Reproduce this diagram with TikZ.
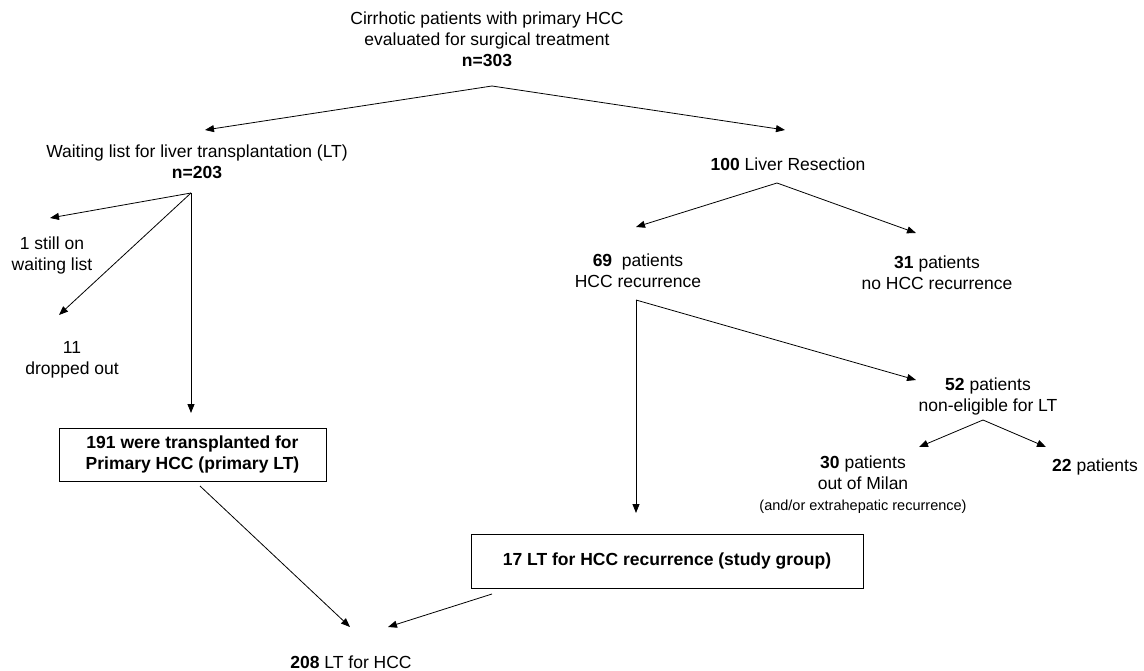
\documentclass[tikz,border=0pt]{standalone}
\usepackage{fontspec}
\setmainfont{Liberation Sans}
\usetikzlibrary{arrows.meta}
\begin{document}
\begin{tikzpicture}[x=1pt,y=-1pt,
  lbl/.style={align=center,inner sep=0pt,font=\fontsize{17.5}{21}\selectfont},
  bx/.style={draw,line width=0.9pt,inner sep=0pt,align=center,font=\fontsize{17.5}{21}\selectfont\bfseries},
  arr/.style={line width=0.8pt,-{Triangle[length=9pt,width=7pt]}},
  smallt/.style={font=\fontsize{14.5}{17}\selectfont}]
\useasboundingbox (0,0) rectangle (1144,671);
% nodes
\node[lbl] (title) at (487,39) {Cirrhotic patients with primary HCC\\evaluated for surgical treatment\\\textbf{n=303}};
\node[lbl] (wl) at (197,162) {Waiting list for liver transplantation (LT)\\\textbf{n=203}};
\node[lbl] (lr) at (788,164) {\textbf{100} Liver Resection};
\node[lbl] (still) at (52,255) {1 still on\\waiting list};
\node[lbl] (drop) at (72,360) {11\\dropped out};
\node[bx,minimum width=267pt,minimum height=53pt] (b191) at (192.5,454.5) {191 were transplanted for\\Primary HCC (primary LT)};
\node[lbl] (p69) at (638,271) {\textbf{69}\ \ patients\\HCC recurrence};
\node[lbl] (p31) at (937,273) {\textbf{31} patients\\no HCC recurrence};
\node[lbl] (p52) at (988,396) {\textbf{52} patients\\non-eligible for LT};
\node[lbl] (p30) at (863,485) {\textbf{30} patients\\out of Milan\\{\fontsize{14.5}{17}\selectfont (and/or extrahepatic recurrence)}};
\node[lbl] (p22) at (1095,467) {\textbf{22} patients};
\node[bx,minimum width=392pt,minimum height=54pt] (b17) at (667,561) {17 LT for HCC recurrence (study group)};
\node[lbl] (p208) at (351,662) {\textbf{208} LT for HCC};
% connector end points
\coordinate (title-out) at (492,86);
\coordinate (wl-in) at (205,130);
\coordinate (lr-in) at (785,130);
\coordinate (wl-out) at (191,193);
\coordinate (still-in) at (50,218);
\coordinate (drop-in) at (59,315);
\coordinate (b191-in) at (191,413);
\coordinate (lr-out) at (777,183);
\coordinate (p69-in) at (636,227);
\coordinate (p31-in) at (916,233);
\coordinate (p69-out) at (636,300);
\coordinate (b17-in) at (636,513);
\coordinate (p52-in) at (916,380);
\coordinate (p52-out) at (983,420);
\coordinate (p30-in) at (919,447);
\coordinate (p22-in) at (1046,447);
\coordinate (b191-out) at (200,486);
\coordinate (p208-inl) at (350,627);
\coordinate (b17-out) at (492,594);
\coordinate (p208-inr) at (388,627);
% connectors
\draw[arr] (title-out) -- (wl-in);
\draw[arr] (title-out) -- (lr-in);
\draw[arr] (wl-out) -- (still-in);
\draw[arr] (wl-out) -- (drop-in);
\draw[arr] (wl-out) -- (b191-in);
\draw[arr] (lr-out) -- (p69-in);
\draw[arr] (lr-out) -- (p31-in);
\draw[arr] (p69-out) -- (b17-in);
\draw[arr] (p69-out) -- (p52-in);
\draw[arr] (p52-out) -- (p30-in);
\draw[arr] (p52-out) -- (p22-in);
\draw[arr] (b191-out) -- (p208-inl);
\draw[arr] (b17-out) -- (p208-inr);
\end{tikzpicture}
\end{document}
